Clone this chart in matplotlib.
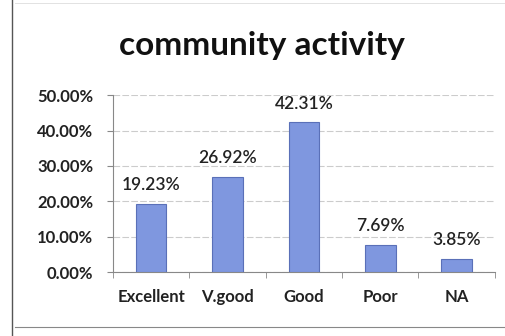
import numpy as np
import matplotlib.pyplot as plt
from matplotlib.lines import Line2D

categories = ["Excellent", "V.good", "Good", "Poor", "NA"]
values = [19.23, 26.92, 42.31, 7.69, 3.85]
yticks = [0, 10, 20, 30, 40, 50]

plt.rcParams['font.family'] = ['Lato', 'DejaVu Sans']

fig = plt.figure(figsize=(5.06, 3.36), dpi=100)
ax = fig.add_axes([0.223, 0.19, 0.755, 0.527])

x = np.arange(len(categories))
ax.bar(x, values, width=0.4, color="#7f97df", edgecolor="#5a70b8", linewidth=0.8, zorder=3)
for xi, v in zip(x, values):
    ax.text(xi, v + 3.0, f"{v:.2f}%", ha="center", va="bottom", fontsize=12.5,
            fontweight="semibold", color="#222222")

ax.set_ylim(0, 50)
ax.set_xlim(-0.5, len(categories) - 0.5)
ax.set_yticks(yticks)
ax.set_yticklabels([f"{t:.2f}%" for t in yticks], fontsize=12, fontweight="bold", color="#222222")
ax.set_xticks(x)
ax.set_xticklabels(categories, fontsize=12, fontweight="bold", color="#222222")
ax.set_xticks(np.arange(-0.5, len(categories)), minor=True)
ax.tick_params(axis="x", which="major", length=0, pad=12)
ax.tick_params(axis="x", which="minor", length=4, color="#888888", direction="out")
ax.tick_params(axis="y", length=4, color="#888888", pad=10)
ax.grid(axis="y", color="#cccccc", linewidth=0.8, linestyle=(0, (6, 2)), zorder=0)
for s in ["top", "right"]:
    ax.spines[s].set_visible(False)
ax.spines["left"].set_color("#888888")
ax.spines["bottom"].set_color("#888888")

fig.text(0.518, 0.865, "community activity", ha="center", va="center", fontsize=24, fontweight="bold", color="#111111")

# scanned frame lines
fig.add_artist(Line2D([0.024, 0.024], [0, 1], color="#555555", linewidth=1.0))
fig.add_artist(Line2D([0.03, 1], [0.027, 0.027], color="#888888", linewidth=0.8))
fig.add_artist(Line2D([0.03, 1], [0.99, 0.99], color="#dddddd", linewidth=0.6))

fig.savefig("out.png", dpi=100)
